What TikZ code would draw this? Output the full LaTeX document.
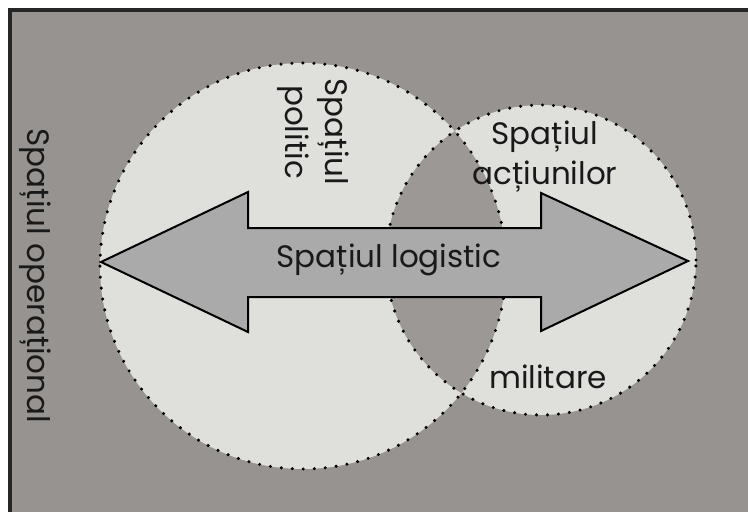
\documentclass[tikz,border=0pt]{standalone}
\usepackage{fontspec}
\setmainfont{Poppins}
\begin{document}
\begin{tikzpicture}[x=1pt,y=-1pt,
  bgfill/.style={fill=bggray},
  zone/.style={fill=lightzone},
  dotted border/.style={draw=black,line width=3.4pt,line cap=round,dash pattern=on 0pt off 11pt},
  arrowshape/.style={fill=arrowgray,draw=black,line width=2pt,line join=miter},
  lbl/.style={font=\fontsize{31}{40}\selectfont,text=black!90,inner sep=0pt,align=center}]
\definecolor{bggray}{RGB}{150,147,144}
\definecolor{lightzone}{RGB}{223,223,220}
\definecolor{interzone}{RGB}{155,152,149}
\definecolor{arrowgray}{RGB}{170,170,170}
\useasboundingbox (0,0) rectangle (748,512);
\fill[white] (0,0) rectangle (748,512);
\begin{scope}
\clip (0,0) rectangle (748,512);
\draw[bgfill,draw=black!85,line width=4pt] (10,10) rectangle (780,540);
\end{scope}
% circles
\coordinate (cL) at (303,266);
\coordinate (cR) at (541,260);
\fill[lightzone] (cL) circle[radius=203pt];
\fill[lightzone] (cR) circle[radius=155pt];
\begin{scope}
\clip (cL) circle[radius=203pt];
\fill[interzone] (cR) circle[radius=155pt];
\end{scope}
\draw[dotted border] (cL) circle[radius=203pt];
\draw[dotted border] (cR) circle[radius=155pt];
% double arrow
\draw[arrowshape] (101,262) -- (248,192) -- (248,228) -- (541,228) -- (541,193)
  -- (688,261) -- (541,331) -- (541,297) -- (248,297) -- (248,332) -- cycle;
% labels
\node[lbl] (logi) at (389,260) {Spațiul logistic};
\node[lbl,rotate=-90] (oper) at (35,276) {Spațiul operațional};
\node[lbl,rotate=-90] (poli) at (313,132) {Spațiul\\politic};
\node[lbl] (act) at (545,157) {Spațiul\\acțiunilor};
\node[lbl] (mil) at (548,377) {militare};
\end{tikzpicture}
\end{document}
